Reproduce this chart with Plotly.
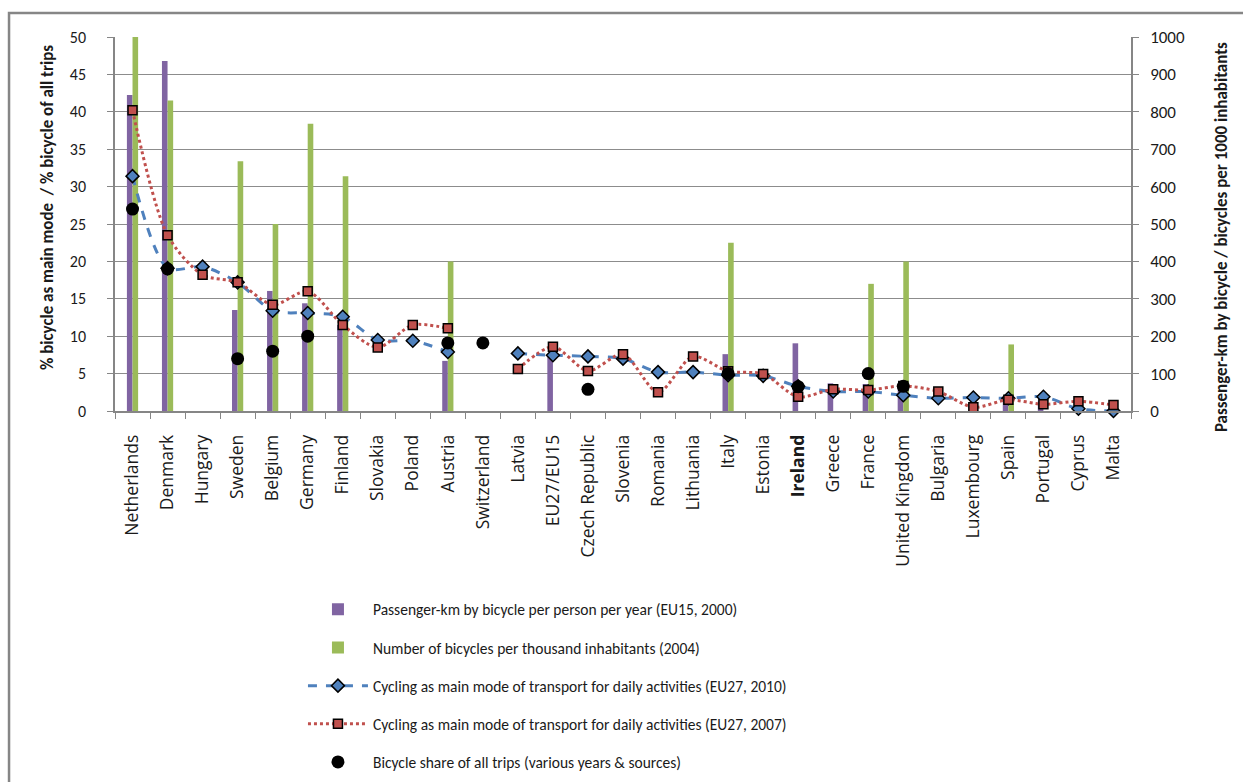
import plotly.graph_objects as go

countries = ["Netherlands", "Denmark", "Hungary", "Sweden", "Belgium", "Germany", "Finland",
             "Slovakia", "Poland", "Austria", "Switzerland", "Latvia", "EU27/EU15", "Czech Republic",
             "Slovenia", "Romania", "Lithuania", "Italy", "Estonia", "Ireland", "Greece", "France",
             "United Kingdom", "Bulgaria", "Luxembourg", "Spain", "Portugal", "Cyprus", "Malta"]

# right axis series
pkm_per_person_2000 = [845, 936, None, 270, 321, 288, 230, None, None, 134, None, None, 147, None,
                       None, None, None, 152, None, 181, 74, 72, 70, None, None, 35, 28, None, None]
bicycles_per_1000_2004 = [1000, 830, None, 668, 500, 768, 628, None, None, 400, None, None, None, None,
                          None, None, None, 450, None, None, None, 340, 400, None, None, 178, None, None, None]

# left axis series
main_mode_2010 = [31.4, 19.1, 19.3, 17.2, 13.4, 13.1, 12.6, 9.5, 9.4, 7.9, None, 7.7, 7.45, 7.3,
                  7.0, 5.2, 5.2, 4.8, 4.7, 3.3, 2.6, 2.6, 2.1, 1.7, 1.8, 1.7, 1.9, 0.3, 0.0]
main_mode_2007 = [40.2, 23.5, 18.2, 17.2, 14.2, 16.0, 11.5, 8.5, 11.5, 11.05, None, 5.6, 8.6, 5.35,
                  7.6, 2.5, 7.3, 5.3, 4.95, 1.9, 2.9, 2.8, 3.35, 2.6, 0.5, 1.5, 0.9, 1.3, 0.8]
share_all_trips = [27.0, 19.0, None, 7.0, 8.0, 10.0, None, None, None, 9.1, 9.1, None, None, 2.9,
                   None, None, None, 5.0, None, 3.25, None, 5.0, 3.3, None, None, None, None, None, None]

tick_text = ["<b>Ireland</b>" if c == "Ireland" else c for c in countries]

FONT = "Calibri, Carlito, Lato, sans-serif"
TICKFONT = "'Open Sans', sans-serif"
TXT = "#1a1a1a"
AXIS = "#868686"

fig = go.Figure()
# bars on the base axis (drawn first, below), right side scale 0-1000
fig.add_trace(go.Bar(x=countries, y=pkm_per_person_2000, yaxis="y",
                     name="Passenger-km by bicycle per person per year (EU15, 2000)",
                     marker=dict(color="#8064A2", line=dict(width=0)), legendgroup="a"))
fig.add_trace(go.Bar(x=countries, y=bicycles_per_1000_2004, yaxis="y",
                     name="Number of bicycles per thousand inhabitants (2004)",
                     marker=dict(color="#9BBB59", line=dict(width=0)), legendgroup="b"))
# lines / markers on the overlaying axis, left side scale 0-50
fig.add_trace(go.Scatter(x=countries, y=main_mode_2010, yaxis="y2", mode="lines+markers",
                         name="Cycling as main mode of transport for daily activities (EU27, 2010)",
                         line=dict(color="#4F81BD", width=3, dash="dash", shape="spline", smoothing=0.8),
                         marker=dict(symbol="diamond", size=10, color="#4F81BD",
                                     line=dict(color="black", width=1.5)),
                         connectgaps=False, cliponaxis=False, legendgroup="c"))
fig.add_trace(go.Scatter(x=countries, y=main_mode_2007, yaxis="y2", mode="lines+markers",
                         name="Cycling as main mode of transport for daily activities (EU27, 2007)",
                         line=dict(color="#C0504D", width=3, dash="dot", shape="spline", smoothing=0.8),
                         marker=dict(symbol="square", size=9, color="#C0504D",
                                     line=dict(color="black", width=1.5)),
                         connectgaps=False, cliponaxis=False, legendgroup="d"))
fig.add_trace(go.Scatter(x=countries, y=share_all_trips, yaxis="y2", mode="markers",
                         name="Bicycle share of all trips (various years & sources)",
                         marker=dict(symbol="circle", size=13, color="black"),
                         cliponaxis=False, legendgroup="e"))

fig.update_layout(
    width=1243, height=782,
    margin=dict(l=115, r=112, t=37, b=371, autoexpand=False),
    paper_bgcolor="white", plot_bgcolor="white",
    font=dict(family=FONT, size=15, color=TXT),
    barmode="group", bargap=0.68, bargroupgap=0,
    showlegend=True,
    legend=dict(x=0.185, y=-0.486, xanchor="left", yanchor="top",
                font=dict(size=15.5, family=FONT, color=TXT),
                tracegroupgap=15, itemwidth=60, bgcolor="rgba(0,0,0,0)"),
    xaxis=dict(type="category", tickmode="array", tickvals=countries, ticktext=tick_text,
               range=[-0.5, len(countries) - 0.5], automargin=False,
               tickangle=-90, tickfont=dict(size=17.5, family=TICKFONT, color=TXT),
               ticklabelstandoff=15,
               showline=True, linecolor=AXIS, linewidth=1.5,
               ticks="outside", ticklen=6, tickcolor=AXIS, tickson="boundaries",
               showgrid=False),
    yaxis=dict(range=[0, 1000], dtick=100, side="right", automargin=False,
               tickfont=dict(size=17, family=FONT, color=TXT), ticklabelstandoff=8,
               showline=True, linecolor=AXIS, linewidth=1.5,
               ticks="outside", ticklen=6, tickcolor=AXIS,
               showgrid=True, gridcolor="#8c8c8c", gridwidth=1, zeroline=False),
    yaxis2=dict(range=[0, 50], dtick=5, overlaying="y", side="left", automargin=False,
                tickfont=dict(size=16, family=FONT, color=TXT), ticklabelstandoff=18,
                showline=True, linecolor=AXIS, linewidth=1.5,
                ticks="outside", ticklen=6, tickcolor=AXIS,
                showgrid=False, zeroline=False),
)

fig.add_annotation(text="<b>% bicycle as main mode  / % bicycle of all trips</b>",
                   xref="paper", yref="paper", x=-0.067, y=0.545, xanchor="center", yanchor="middle",
                   textangle=-90, showarrow=False, font=dict(size=17, family=FONT, color=TXT))
fig.add_annotation(text="<b>Passenger-km by bicycle / bicycles per 1000 inhabitants</b>",
                   xref="paper", yref="paper", x=1.0886, y=0.465, xanchor="center", yanchor="middle",
                   textangle=-90, showarrow=False, font=dict(size=17, family=FONT, color=TXT))

# outer chart frame
fig.add_shape(type="rect", xref="paper", yref="paper", x0=-0.1043, y0=-1.2, x1=1.2, y1=1.064,
              line=dict(color=AXIS, width=2.5), fillcolor="rgba(0,0,0,0)", layer="below")

fig.write_html("out.html", config={"displayModeBar": False},
               post_script="document.body.style.margin='0';")
